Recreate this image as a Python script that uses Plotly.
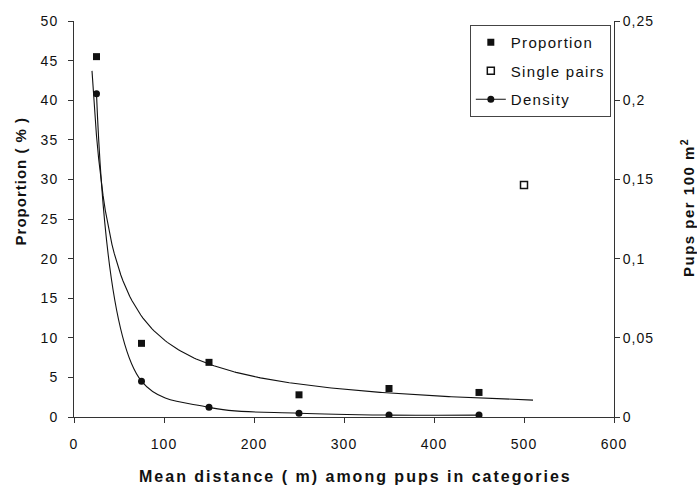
import numpy as np
import plotly.graph_objects as go

# ---- data ----
dist = [25, 75, 150, 250, 350, 450]
proportion = [45.5, 9.3, 6.9, 2.8, 3.6, 3.1]
single_x = [500]
single_y = [29.3]
density = [0.204, 0.0226, 0.0061, 0.0024, 0.0012, 0.0012]
trend_range = [20, 510]

x_ticks = [0, 100, 200, 300, 400, 500, 600]
y_ticks = [0, 5, 10, 15, 20, 25, 30, 35, 40, 45, 50]
y2_ticks = [0, 0.05, 0.1, 0.15, 0.2, 0.25]
y2_labels = ["0", "0,05", "0,1", "0,15", "0,2", "0,25"]

x_title = "Mean distance ( m) among pups in categories"
y_title = "Proportion ( % )"
y2_title = "Pups per 100 m<sup>2</sup>"

# power trendline (log-log least squares fit of the proportion data, like Excel)
b, ln_a = np.polyfit(np.log(dist), np.log(proportion), 1)
tx = np.linspace(trend_range[0], trend_range[1], 200)
ty = np.exp(ln_a) * tx ** b

FONT = "Arial, Liberation Sans, sans-serif"
INK = "#111111"


def spaced(t, s):
    return f'<span style="letter-spacing:{s}px">{t}</span>'


fig = go.Figure()

fig.add_trace(go.Scatter(
    x=tx, y=ty, mode="lines", line=dict(color=INK, width=1.1),
    showlegend=False, hoverinfo="skip"))

fig.add_trace(go.Scatter(
    x=dist, y=proportion, mode="markers", name=spaced("Proportion", 1.3),
    legendgroup="a",
    marker=dict(symbol="square", size=7, color=INK)))

fig.add_trace(go.Scatter(
    x=single_x, y=single_y, mode="markers", name=spaced("Single pairs", 1.3),
    legendgroup="b",
    marker=dict(symbol="square-open", size=7, color=INK, line=dict(width=1.5))))

fig.add_trace(go.Scatter(
    x=dist, y=density, mode="lines+markers", name=spaced("Density", 1.3),
    legendgroup="c", yaxis="y2",
    line=dict(color=INK, width=1.1, shape="spline", smoothing=1.0),
    marker=dict(symbol="circle", size=7, color=INK)))

axis_common = dict(
    showline=True, linecolor="#333333", linewidth=1,
    ticks="outside", ticklen=5, tickcolor="#333333", tickwidth=1,
    showgrid=False, zeroline=False,
    tickfont=dict(family=FONT, size=14, color=INK),
)

fig.update_layout(
    width=697, height=488,
    margin=dict(l=74, r=83, t=21, b=71),
    paper_bgcolor="white", plot_bgcolor="white",
    font=dict(family=FONT, color=INK),
    xaxis=dict(
        range=[0, 600], tickvals=x_ticks,
        ticktext=[spaced(str(v), 1) for v in x_ticks],
        ticklabelstandoff=9,
        **axis_common),
    yaxis=dict(
        range=[0, 50], tickvals=y_ticks,
        ticktext=[spaced(str(v), 1) for v in y_ticks],
        ticklabelstandoff=7,
        **axis_common),
    yaxis2=dict(
        range=[0, 0.25], tickvals=y2_ticks,
        ticktext=[spaced(t, 1) for t in y2_labels],
        overlaying="y", side="right",
        **axis_common),
    legend=dict(
        x=0.733, y=0.99, xanchor="left", yanchor="top",
        bordercolor="#444444", borderwidth=1, bgcolor="white",
        font=dict(family=FONT, size=15, color=INK),
        itemwidth=30, tracegroupgap=6, traceorder="grouped"),
    showlegend=True,
    annotations=[
        dict(text="<b>" + spaced(x_title, 2) + "</b>", xref="paper", yref="paper",
             x=0.522, y=-0.149, xanchor="center", yanchor="middle", showarrow=False,
             font=dict(family=FONT, size=16, color=INK)),
        dict(text="<b>" + spaced(y_title, 1) + "</b>", xref="paper", yref="paper",
             x=-0.1, y=0.595, xanchor="center", yanchor="middle", showarrow=False,
             textangle=-90, font=dict(family=FONT, size=15, color=INK)),
        dict(text="<b>" + spaced(y2_title, 1.5) + "</b>", xref="paper", yref="paper",
             x=1.135, y=0.53, xanchor="center", yanchor="middle", showarrow=False,
             textangle=-90, font=dict(family=FONT, size=15, color=INK)),
    ],
)

fig.write_html("out.html")
